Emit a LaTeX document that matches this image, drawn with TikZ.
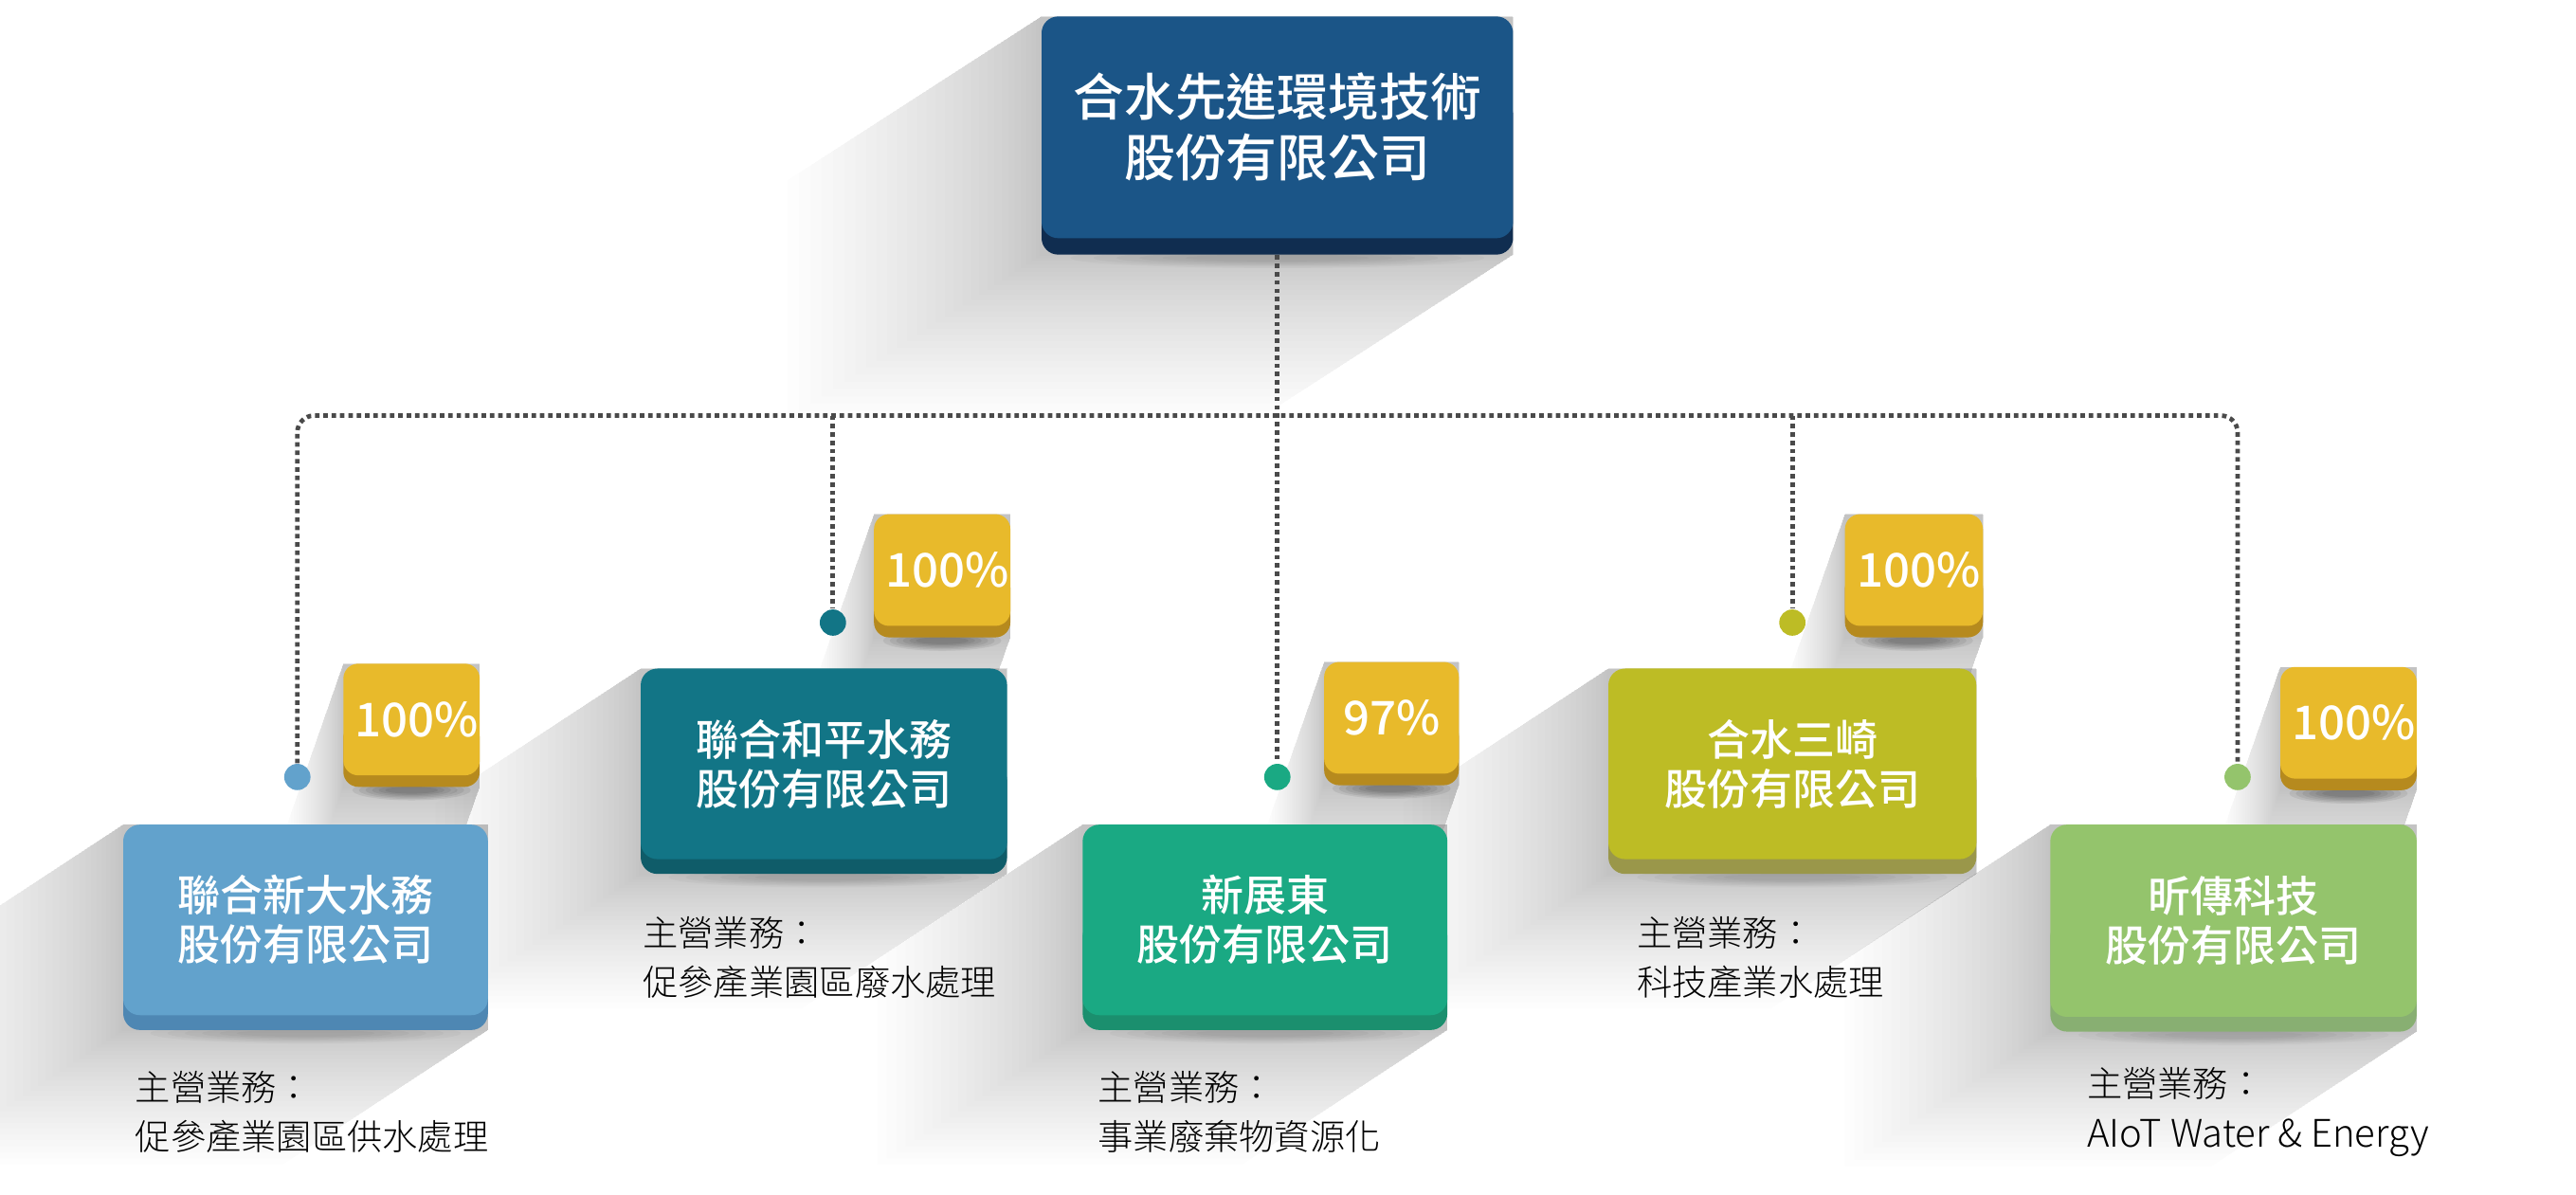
\documentclass[tikz,border=0pt]{standalone}
\usepackage{fontspec}
\newfontfamily\cjk{Noto Sans CJK TC}
\newfontfamily\cjkm{Noto Sans CJK TC Medium}
\newfontfamily\cjkl{Noto Sans CJK TC Light}
\usetikzlibrary{calc}
\definecolor{topc}{HTML}{1B5587}
\definecolor{toplip}{HTML}{102D50}
\definecolor{cA}{HTML}{62A2CC}\definecolor{lA}{HTML}{4E87B3}
\definecolor{cB}{HTML}{127586}\definecolor{lB}{HTML}{0F5C69}
\definecolor{cC}{HTML}{1AA983}\definecolor{lC}{HTML}{1B8F6E}
\definecolor{cD}{HTML}{BDBC25}\definecolor{lD}{HTML}{9A974A}
\definecolor{cE}{HTML}{94C46C}\definecolor{lE}{HTML}{88AF72}
\definecolor{badgec}{HTML}{E8BA2B}\definecolor{badgel}{HTML}{B68A1E}
\definecolor{connc}{HTML}{4A4A4A}
\def\U{0.017334cm}
% long shadow: x1 y1 x2 y2 Dx Dy
\newcommand\lshadow[6]{%
  \foreach \k in {1,...,30}{%
    \pgfmathsetmacro\fr{(\k/30)^1.4}%
    \fill[black, fill opacity=0.0095] (#1,#2) -- (#3,#2) -- (#3,#4)
      -- ({#3+(#5)*\fr},{#4+(#6)*\fr}) -- ({#1+(#5)*\fr},{#4+(#6)*\fr})
      -- ({#1+(#5)*\fr},{#2+(#6)*\fr}) -- cycle;}}
% soft drop shadow under a shape: cx, bottom y, half width, opacity
\newcommand\dropsh[4]{%
  \foreach \k in {1,...,6}{%
    \fill[black, fill opacity=#4] (#1,#2) ellipse [x radius={#3*(1-\k*0.1)}, y radius={7-\k*0.8}];}}
\begin{document}
\begin{tikzpicture}[x=0.017334cm, y=-0.017334cm,
  face/.style={rounded corners=5pt, inner sep=0pt, text=white, align=center,
    font=\cjkm\fontsize{12.8}{14.8}\selectfont},
  lipbox/.style={rounded corners=5pt},
  badge/.style={rounded corners=4.5pt, fill=badgec, inner sep=0pt, text=white,
    minimum width={83*\U}, minimum height={68*\U},
    font=\cjkm\fontsize{14}{17}\selectfont},
  dotn/.style={circle, inner sep=0pt, minimum size={16*\U}},
  conn/.style={draw=connc, line width=1.35pt, dash pattern=on 1.35pt off 1.15pt, rounded corners=5pt},
  desc/.style={anchor=west, align=left, inner sep=0pt, text=black,
    font=\cjkl\fontsize{10.6}{14.8}\selectfont}]
\useasboundingbox (0,0) rectangle (1568,727);

% ---- long shadows ----
\lshadow{634}{10}{921}{155}{-155}{100}
\lshadow{75}{502}{297}{627}{-125}{82}
\lshadow{390}{407}{613}{532}{-125}{82}
\lshadow{659}{502}{881}{627}{-125}{82}
\lshadow{979}{407}{1203}{532}{-125}{82}
\lshadow{1248}{502}{1471}{628}{-125}{82}
\lshadow{209}{404}{292}{479}{-35}{100}
\lshadow{532}{313}{615}{388}{-35}{100}
\lshadow{806}{403}{888}{478}{-35}{100}
\lshadow{1123}{313}{1207}{388}{-35}{100}
\lshadow{1388}{406}{1471}{481}{-35}{100}

% ---- drop shadows ----
\dropsh{250.5}{481}{40}{0.07}
\dropsh{573.5}{390}{40}{0.07}
\dropsh{847}{480}{40}{0.07}
\dropsh{1165}{390}{40}{0.07}
\dropsh{1429.5}{483}{40}{0.07}
\dropsh{777.5}{157}{140}{0.03}
\dropsh{186}{629}{105}{0.03}
\dropsh{501.5}{534}{105}{0.03}
\dropsh{770}{629}{105}{0.03}
\dropsh{1091}{534}{105}{0.03}
\dropsh{1359.5}{630}{105}{0.03}

% ---- top box ----
\fill[toplip, lipbox] (634,60) rectangle (921,155);
\node[face, fill=topc, minimum width={287*\U}, minimum height={135*\U},
  font=\cjkm\fontsize{15.3}{18.2}\selectfont] (top) at (777.5,77.5)
  {合水先進環境技術\\股份有限公司};

% ---- company boxes ----
\fill[lA, lipbox] (75,560) rectangle (297,627);
\node[face, fill=cA, minimum width={222*\U}, minimum height={116*\U}] (n1) at (186,560)
  {聯合新大水務\\股份有限公司};
\fill[lB, lipbox] (390,465) rectangle (613,532);
\node[face, fill=cB, minimum width={223*\U}, minimum height={116*\U}] (n2) at (501.5,465)
  {聯合和平水務\\股份有限公司};
\fill[lC, lipbox] (659,560) rectangle (881,627);
\node[face, fill=cC, minimum width={222*\U}, minimum height={116*\U}] (n3) at (770,560)
  {新展東\\股份有限公司};
\fill[lD, lipbox] (979,465) rectangle (1203,532);
\node[face, fill=cD, minimum width={224*\U}, minimum height={116*\U}] (n4) at (1091,465)
  {合水三崎\\股份有限公司};
\fill[lE, lipbox] (1248,560) rectangle (1471,628);
\node[face, fill=cE, minimum width={223*\U}, minimum height={117*\U}] (n5) at (1359.5,560.5)
  {昕傳科技\\股份有限公司};

% ---- badges ----
\fill[badgel, rounded corners=4.5pt] (209,440) rectangle (292,479);
\node[badge] (p1) at (250.5,438) {\hspace*{3pt}100\%};
\fill[badgel, rounded corners=4.5pt] (532,349) rectangle (615,388);
\node[badge] (p2) at (573.5,347) {\hspace*{3pt}100\%};
\fill[badgel, rounded corners=4.5pt] (806,439) rectangle (888,478);
\node[badge, minimum width={82*\U}] (p3) at (847,437) {97\%};
\fill[badgel, rounded corners=4.5pt] (1123,349) rectangle (1207,388);
\node[badge, minimum width={84*\U}] (p4) at (1165,347) {\hspace*{3pt}100\%};
\fill[badgel, rounded corners=4.5pt] (1388,442) rectangle (1471,481);
\node[badge] (p5) at (1429.5,440) {\hspace*{3pt}100\%};

% ---- dots ----
\node[dotn, fill=cA] (d1) at (181,473) {};
\node[dotn, fill=cB] (d2) at (507,379) {};
\node[dotn, fill=cC] (d3) at (777.5,473) {};
\node[dotn, fill=cD] (d4) at (1091,379) {};
\node[dotn, fill=cE] (d5) at (1362,473) {};
\coordinate (bus) at (777.5,253);

% ---- connectors ----
\draw[conn] (d1.north) -- (d1 |- bus) -- (d5 |- bus) -- (d5.north);
\draw[conn] ($(top.south)+(0,10)$) -- (d3.north);
\draw[conn] (d2 |- bus) -- (d2.north);
\draw[conn] (d4 |- bus) -- (d4.north);

% ---- descriptions ----
\node[desc] (t1) at (82,677) {主營業務：\\促參產業園區供水處理};
\node[desc] (t2) at (391,583) {主營業務：\\促參產業園區廢水處理};
\node[desc] (t3) at (668,677) {主營業務：\\事業廢棄物資源化};
\node[desc] (t4) at (996,583) {主營業務：\\科技產業水處理};
\node[desc] (t5) at (1270,677) {主營業務：\\{\fontsize{11.4}{14.8}\selectfont AIoT Water \& Energy}};
\end{tikzpicture}
\end{document}
